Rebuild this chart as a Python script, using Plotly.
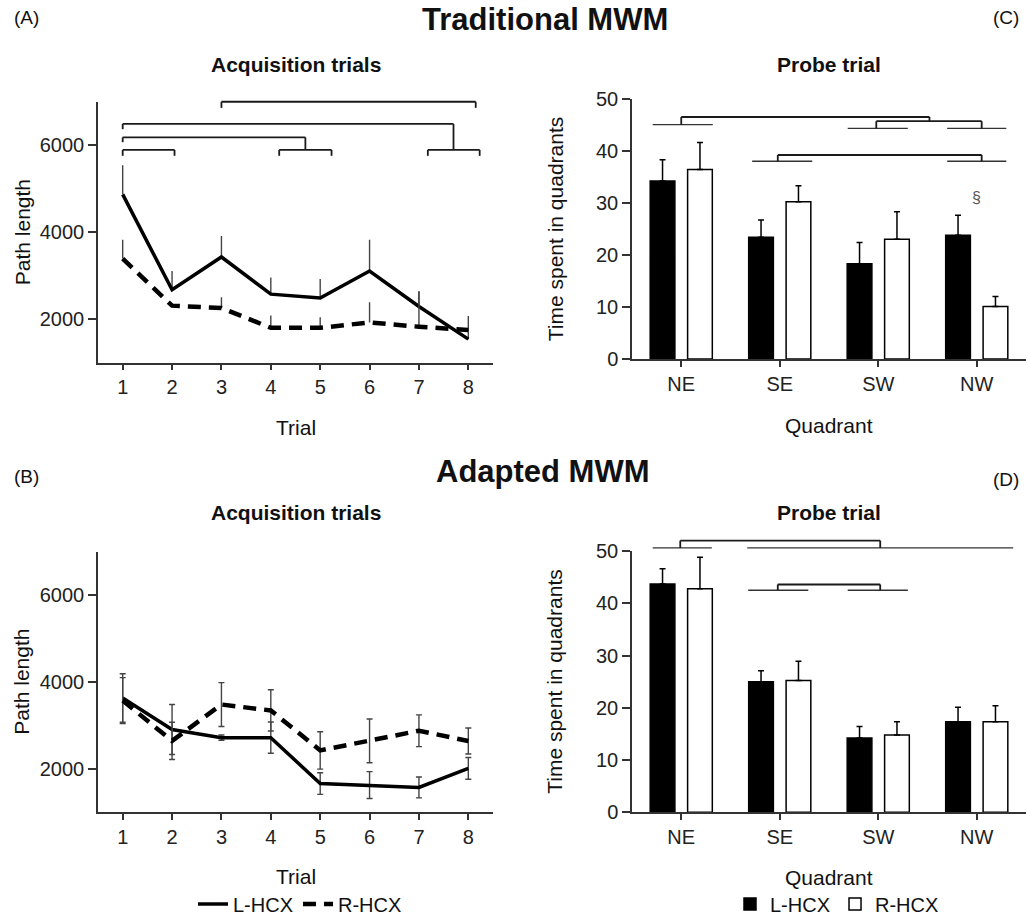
import plotly.graph_objects as go

# ---------------- data ----------------
trials = [1, 2, 3, 4, 5, 6, 7, 8]
trial_ticks = [2000, 4000, 6000]

# (A) Traditional MWM - acquisition path length
a_left = [4870, 2675, 3430, 2575, 2485, 3107, 2290, 1540]
a_left_err = [670, 430, 480, 385, 440, 718, 350, 535]
a_right = [3393, 2311, 2257, 1802, 1800, 1925, 1825, 1750]
a_right_err = [432, 0, 245, 280, 245, 465, 810, 0]

# (B) Adapted MWM - acquisition path length
b_left = [3630, 2905, 2717, 2717, 1660, 1625, 1570, 2010]
b_left_err = [560, 575, 60, 360, 250, 310, 240, 250]
b_right = [3570, 2643, 3480, 3344, 2423, 2643, 2876, 2640]
b_right_err = [530, 430, 505, 475, 430, 505, 365, 300]

# (C)/(D) probe trial - time spent in quadrants
quadrants = ["NE", "SE", "SW", "NW"]
quad_pos = [0, 1, 2, 3]
c_left = [34.2, 23.4, 18.3, 23.8]
c_left_err = [4.1, 3.3, 4.1, 3.8]
c_right = [36.4, 30.2, 23.0, 10.1]
c_right_err = [5.2, 3.1, 5.3, 1.9]
d_left = [43.7, 25.0, 14.2, 17.3]
d_left_err = [2.9, 2.1, 2.2, 2.8]
d_right = [42.8, 25.2, 14.8, 17.3]
d_right_err = [6.0, 3.7, 2.5, 3.1]

# significance brackets: (x0, x1, level, left leg end, right leg end)
a_brackets = [
    (3.0, 8.15, 7000, 6860, 6860),
    (1.0, 7.70, 6490, 6370, 5893),
    (7.18, 8.23, 5893, 5757, 5757),
    (1.0, 4.70, 6182, 6070, 5893),
    (4.17, 5.23, 5893, 5757, 5757),
    (1.0, 2.05, 5893, 5757, 5757),
]
# group underlines: (x0, x1, level)
c_lines = [(-0.29, 0.32, 45.05), (1.69, 2.30, 44.3), (2.70, 3.30, 44.3),
           (0.72, 1.33, 38.0), (2.70, 3.30, 38.0)]
c_brackets = [(0.0, 2.52, 46.5, 45.05, 45.7),
              (1.98, 3.05, 45.7, 44.3, 44.3),
              (0.98, 3.05, 39.2, 38.0, 38.0)]
d_lines = [(-0.29, 0.31, 50.6), (0.67, 3.37, 50.6),
           (0.68, 1.29, 42.5), (1.69, 2.30, 42.5)]
d_brackets = [(-0.01, 2.02, 52.0, 50.6, 50.6),
              (0.98, 2.02, 43.6, 42.5, 42.5)]

# ---------------- layout geometry ----------------
W, H = 1026, 924
FONT = "Liberation Sans, Arial, sans-serif"
A_XR, A_YR = [0.5, 8.5], [1000, 7000]
C_XR, C_YR = [-0.5, 3.5], [0, 50]


def px_x(x0, x1):
    return [x0 / W, x1 / W]


def px_y(top, bottom):
    return [1 - bottom / H, 1 - top / H]


dom = {
    "A": (px_x(98, 493), px_y(103, 367)),
    "C": (px_x(632, 1026), px_y(100, 363.3)),
    "B": (px_x(98, 493), px_y(558.3, 822)),
    "D": (px_x(632, 1026), px_y(557.7, 822)),
}

fig = go.Figure()

LINE_DASH = "13px,8px"
ERR_GREY = "#444"

# ---- panel A lines ----
fig.add_trace(go.Scatter(x=trials, y=a_left, mode="lines", xaxis="x", yaxis="y",
                         line=dict(color="black", width=3.5), showlegend=False,
                         error_y=dict(type="data", array=a_left_err, arrayminus=[0] * 8,
                                      symmetric=False, width=0, thickness=1.4, color=ERR_GREY)))
fig.add_trace(go.Scatter(x=trials, y=a_right, mode="lines", xaxis="x", yaxis="y",
                         line=dict(color="black", width=4.5, dash=LINE_DASH), showlegend=False,
                         error_y=dict(type="data", array=a_right_err, arrayminus=[0] * 8,
                                      symmetric=False, width=0, thickness=1.4, color=ERR_GREY)))
# ---- panel B lines ----
fig.add_trace(go.Scatter(x=trials, y=b_left, mode="lines", xaxis="x3", yaxis="y3",
                         name="L-HCX", legend="legend",
                         line=dict(color="black", width=3.5),
                         error_y=dict(type="data", array=b_left_err, width=3,
                                      thickness=1.4, color=ERR_GREY)))
fig.add_trace(go.Scatter(x=trials, y=b_right, mode="lines", xaxis="x3", yaxis="y3",
                         name="R-HCX", legend="legend",
                         line=dict(color="black", width=4.5, dash=LINE_DASH),
                         error_y=dict(type="data", array=b_right_err, width=3,
                                      thickness=1.4, color=ERR_GREY)))

# ---- panel C / D bars ----
def bar(xs, ys, err, name, fill, xa, ya, show):
    return go.Bar(x=xs, y=ys, name=name, xaxis=xa, yaxis=ya, showlegend=show,
                  legend="legend2", offsetgroup=name,
                  marker=dict(color=fill, line=dict(color="black", width=1.5)),
                  error_y=dict(type="data", array=err, arrayminus=[0] * len(err),
                               symmetric=False, width=3, thickness=1.5, color="black"))


fig.add_trace(bar(quad_pos, c_left, c_left_err, "L-HCX", "black", "x2", "y2", False))
fig.add_trace(bar(quad_pos, c_right, c_right_err, "R-HCX", "white", "x2", "y2", False))
fig.add_trace(bar(quad_pos, d_left, d_left_err, "L-HCX", "black", "x4", "y4", True))
fig.add_trace(bar(quad_pos, d_right, d_right_err, "R-HCX", "white", "x4", "y4", True))

# ---------------- axes ----------------
tickfont = dict(family=FONT, size=20, color="#222")


def xaxis(d, rng, tickvals, ticktext=None):
    return dict(domain=d, range=rng, tickvals=tickvals, ticktext=ticktext,
                showline=True, linecolor="#333", linewidth=1.5, ticks="outside",
                ticklen=6, tickwidth=1.5, tickcolor="#333", showgrid=False,
                zeroline=False, tickfont=tickfont, automargin=False, fixedrange=True)


def yaxis(d, rng, tickvals):
    return dict(domain=d, range=rng, tickvals=tickvals, showline=True,
                linecolor="#333", linewidth=1.5, ticks="outside", ticklen=8,
                tickwidth=1.5, tickcolor="#333", showgrid=False, zeroline=False,
                tickfont=tickfont, automargin=False, fixedrange=True)


fig.update_layout(
    xaxis=dict(xaxis(dom["A"][0], A_XR, trials), anchor="y"),
    yaxis=dict(yaxis(dom["A"][1], A_YR, trial_ticks), anchor="x"),
    xaxis2=dict(xaxis(dom["C"][0], C_XR, quad_pos, quadrants), anchor="y2"),
    yaxis2=dict(yaxis(dom["C"][1], C_YR, [0, 10, 20, 30, 40, 50]), anchor="x2"),
    xaxis3=dict(xaxis(dom["B"][0], A_XR, trials), anchor="y3"),
    yaxis3=dict(yaxis(dom["B"][1], A_YR, trial_ticks), anchor="x3"),
    xaxis4=dict(xaxis(dom["D"][0], C_XR, quad_pos, quadrants), anchor="y4"),
    yaxis4=dict(yaxis(dom["D"][1], C_YR, [0, 10, 20, 30, 40, 50]), anchor="x4"),
)

# ---------------- brackets (domain-referenced so they are not clipped) ----------------
shapes = []


def seg(ax, xr, yr, x0, y0, x1, y1, width=1.8, color="#1a1a1a"):
    fx = lambda v: (v - xr[0]) / (xr[1] - xr[0])
    fy = lambda v: (v - yr[0]) / (yr[1] - yr[0])
    shapes.append(dict(type="line", xref=f"x{ax} domain", yref=f"y{ax} domain",
                       x0=fx(x0), x1=fx(x1), y0=fy(y0), y1=fy(y1),
                       line=dict(color=color, width=width)))


def brackets(ax, xr, yr, items):
    for x0, x1, lv, l0, l1 in items:
        seg(ax, xr, yr, x0, lv, x1, lv)
        seg(ax, xr, yr, x0, lv, x0, l0)
        seg(ax, xr, yr, x1, lv, x1, l1)


def underlines(ax, xr, yr, items):
    for x0, x1, lv in items:
        seg(ax, xr, yr, x0, lv, x1, lv, width=1.3, color="#333")


brackets("", A_XR, A_YR, a_brackets)
underlines("2", C_XR, C_YR, c_lines)
brackets("2", C_XR, C_YR, c_brackets)
underlines("4", C_XR, C_YR, d_lines)
brackets("4", C_XR, C_YR, d_brackets)
fig.update_layout(shapes=shapes)

# ---------------- text ----------------
ann = []


def txt(s, x, y, size=21, bold=False, xanchor="center", angle=0, color="#111"):
    ann.append(dict(text=f"<b>{s}</b>" if bold else s, x=x / W, y=1 - y / H,
                    xref="paper", yref="paper", xanchor=xanchor, yanchor="middle",
                    showarrow=False, textangle=angle,
                    font=dict(family=FONT, size=size, color=color)))


txt("Traditional MWM", 545, 20, size=31, bold=True)
txt("Adapted MWM", 543, 477, size=31, bold=True)
txt("(A)", 12, 18, size=19, xanchor="left")
txt("(C)", 1021, 18, size=19, xanchor="right")
txt("(B)", 12, 482, size=19, xanchor="left")
txt("(D)", 1021, 485, size=19, xanchor="right")
txt("Acquisition trials", 295.5, 65, size=21, bold=True)
txt("Probe trial", 829, 65, size=21, bold=True)
txt("Acquisition trials", 295.5, 519, size=21, bold=True)
txt("Probe trial", 829, 519, size=21, bold=True)
txt("Path length", 22, 235, angle=-90)
txt("Path length", 22, 690, angle=-90)
txt("Time spent in quadrants", 555, 232, angle=-90)
txt("Time spent in quadrants", 555, 690, angle=-90)
txt("Trial", 296, 433)
txt("Trial", 296, 887)
txt("Quadrant", 829, 431)
txt("Quadrant", 829, 888)
# section mark above NW (C)
ann.append(dict(text="§", x=3.0, y=31, xref="x2", yref="y2", showarrow=False,
                font=dict(family=FONT, size=16, color="#555")))

fig.update_layout(annotations=ann)

fig.update_layout(
    width=W, height=H,
    margin=dict(l=0, r=0, t=0, b=0),
    paper_bgcolor="white", plot_bgcolor="white",
    barmode="group", bargap=0.24, bargroupgap=0.34,
    font=dict(family=FONT, color="#111"),
    hovermode=False,
    legend=dict(orientation="h", x=300 / W, xanchor="center", y=1 - 915 / H,
                yanchor="middle", font=dict(family=FONT, size=20, color="#111"),
                bgcolor="rgba(0,0,0,0)", itemwidth=30),
    legend2=dict(orientation="h", x=837 / W, xanchor="center", y=1 - 915 / H,
                 yanchor="middle", font=dict(family=FONT, size=20, color="#111"),
                 bgcolor="rgba(0,0,0,0)", itemwidth=30),
)

fig.write_html("out.html", config={"displayModeBar": False},
               post_script="document.body.style.margin='0';"
                           "document.body.style.overflow='hidden';")
